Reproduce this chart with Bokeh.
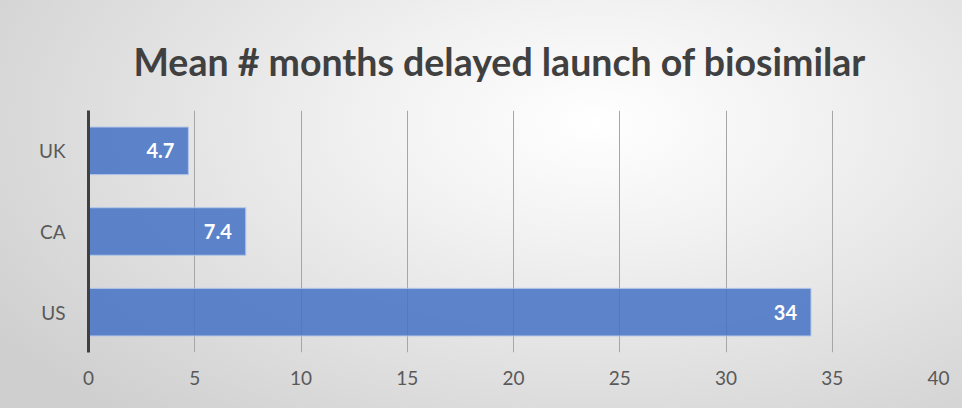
from bokeh.plotting import figure
from bokeh.models import ColumnDataSource, LabelSet, FixedTicker, Range1d
from bokeh.core.properties import value
from bokeh.embed import file_html
from bokeh.resources import INLINE

countries = ["US", "CA", "UK"]
months = [34, 7.4, 4.7]
month_labels = ["34", "7.4", "4.7"]
x_ticks = [0, 5, 10, 15, 20, 25, 30, 35, 40]
title_text = "Mean # months delayed launch of biosimilar"

FONT = "Lato"

src = ColumnDataSource(dict(country=countries, months=months, lab=month_labels))

p = figure(width=962, height=408, y_range=countries, x_range=Range1d(0, 40),
           output_backend="svg", toolbar_location=None, title=title_text,
           min_border_left=88, min_border_right=24, min_border_top=110,
           min_border_bottom=56)

p.styles = {"background": "radial-gradient(ellipse 75% 95% at 62% 30%, #ffffff 0%, #f2f2f2 30%, #cfcfcf 100%)"}
p.border_fill_alpha = 0
p.background_fill_alpha = 0
p.outline_line_color = None

p.title.text_font = FONT
p.title.text_font_style = "bold"
p.title.text_font_size = "37.5px"
p.title.text_color = "#404040"
p.title.align = "left"
p.title.offset = 45
p.title.standoff = 54

p.hbar(y="country", right="months", left=0, height=0.59, source=src,
       fill_color="#4472C4", fill_alpha=0.85, line_color="#b4c7e7", line_width=1)

labels = LabelSet(x="months", y="country", text="lab", source=src,
                  x_offset=-14, text_align="right", text_baseline="middle",
                  text_color="white", text_font=value(FONT), text_font_style="bold",
                  text_font_size="20px")
p.add_layout(labels)

p.xaxis.ticker = FixedTicker(ticks=x_ticks)
p.xaxis.axis_line_color = None
p.xaxis.major_tick_line_color = None
p.xaxis.minor_tick_line_color = None
p.xaxis.major_label_text_font = FONT
p.xaxis.major_label_text_font_size = "19px"
p.xaxis.major_label_text_color = "#595959"
p.xaxis.major_label_standoff = 12

p.yaxis.axis_line_color = "#404040"
p.yaxis.axis_line_width = 3
p.yaxis.major_tick_line_color = None
p.yaxis.minor_tick_line_color = None
p.yaxis.major_label_text_font = FONT
p.yaxis.major_label_text_font_size = "19px"
p.yaxis.major_label_text_color = "#595959"
p.yaxis.major_label_standoff = 17

p.xgrid.grid_line_color = "#a6a6a6"
p.xgrid.grid_line_width = 1
p.ygrid.grid_line_color = None

open("out.html", "w").write(file_html(p, INLINE))
